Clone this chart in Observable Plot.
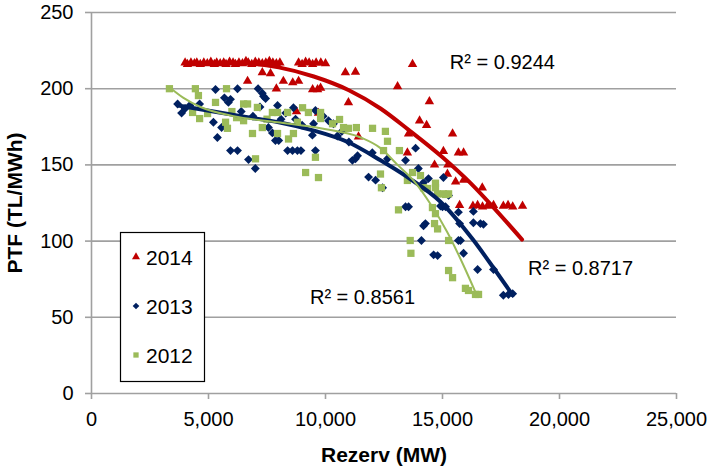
<!DOCTYPE html>
<html><head><meta charset="utf-8">
<script src="https://cdn.jsdelivr.net/npm/d3@7"></script>
<script src="https://cdn.jsdelivr.net/npm/@observablehq/plot@0.6"></script>
<style>
body{margin:0;background:#fff;font-family:"Liberation Sans",Arial,sans-serif;}
#wrap{position:relative;width:708px;height:470px;}
g[aria-label="x-axis label"] text, g[aria-label="y-axis label"] text{font-weight:bold;font-size:21px;}
g[aria-label="x-axis tick label"] text, g[aria-label="y-axis tick label"] text{font-size:20px;}
</style></head><body><div id="wrap"></div>
<script>
// ---- data (Rezerv MW, PTF TL/MWh) ----
const pts2014 = [
 [4000,217],[4100,216],[4250,217],[4400,216.5],[4500,217],[4650,216],[4800,217],[4950,216.5],[5100,217.5],[5250,216],
 [5350,217],[5500,216.5],[5650,217],[5750,216],[5900,217.5],[6050,217],[6150,216],[6300,217],[6450,216.5],[6600,218],
 [6700,217],[6850,216],[7000,217.5],[7150,217],[7300,216.5],[7450,217],[7600,218],[7750,217],[7900,216.5],[8050,217],
 [8850,217],[9000,216],[9150,217.5],[9300,217],[9450,216],[9600,217],[9800,217],[10000,216.5],
 [7300,210.6],[7650,210],[6670,205],[8200,205],[8600,204],[8850,205],[7900,200],[9450,199.5],[9660,199.5],[9790,200.5],
 [10850,210.6],[11280,211],[10980,191],[8760,185],[9700,184],[13720,216],[13080,201.5],[14440,191.6],[14020,179],[14320,176],
 [13550,170.5],[15430,170.5],[11410,168.5],[15680,158],[15900,158],[15040,159],[13500,158],[14660,150],[15230,150],[15560,139],
 [15900,140],[16700,135],[15210,144],
 [15730,123.5],[16300,123],[16500,123.5],[16710,122.5],[16920,123],[17180,123.5],[17600,123],[17800,123.5],[18000,122.5],[18420,123]
];
const pts2013 = [
 [3680,190],[3850,184],[4000,187],[4200,189],[4620,190],[5300,199.5],[6240,200],[7120,200],[5680,194],[5940,193],
 [5850,191],[5210,178],[5560,174.5],[5380,168],[5940,159.4],[6240,159.4],[6710,153.5],[7000,147.6],[7560,174.5],[7300,197],
 [7350,195],[7440,193.6],[7950,189],[8630,187.5],[8380,159.4],[8590,159.4],[8800,159.4],[8950,159.4],[9570,159.4],[9440,169.5],
 [9570,185.7],[10130,179],[10340,177],[10510,169],[7860,166],[8000,166],[7730,171],[8720,180],[9490,177],[11280,154],
 [11150,153],[11840,142],[12650,154],[13420,153],[11370,156],[12140,140],[12440,135],[13850,161],[13970,147.6],[14400,141],
 [15040,141.7],[15260,130],[13420,122.5],[13550,122.5],[14915,123],[15000,122.5],[15130,122.5],[15680,119],[16320,119.5],[14190,138.5],
 [14190,110],[14270,111.5],[15730,111.5],[16320,112],[16620,111.5],[16750,111],[14100,100.4],[15680,100.4],[15770,100.4],[14620,91],
 [14790,90.5],[15900,92],[16500,81.4],[17180,81.4],[17600,64.5],[17820,65],[18000,65.5],
 [6400,185],[6900,182],[7200,188],[8100,180],[8300,184],[9000,176],[9900,182],[10700,172],[11000,165],[12000,158]
];
const pts2012 = [
 [3330,200],[4440,200],[4570,195.5],[4320,184.4],[4620,180.4],[4960,183.7],[5300,191],[5770,200],[5810,174],[5730,178],
 [6500,190],[6670,190],[6500,179],[6880,170.6],[7010,154],[7090,187.7],[7300,174.5],[7730,184.4],[7950,184.4],[7950,170.6],
 [8380,184.4],[8420,167],[8630,170.6],[9020,187.5],[9270,184.4],[9790,184.4],[9790,180.4],[9570,155],[9150,145],[9700,141.7],
 [10600,179.8],[10770,174.5],[10980,174],[11320,174.5],[12010,174],[12560,172],[12650,165.5],[12480,159.4],[13160,159.4],[12350,144],
 [12390,135],[13120,120.5],[13720,145],[14060,143],[14190,135],[14360,134.5],[14700,135],[14790,131],[15040,131],[15260,131],
 [15130,130.6],[13500,139.8],[14570,122],[14700,118],[14700,138],[13620,100.4],[13650,92],[14660,111.5],[14790,108],[15260,100.4],
 [15260,80.7],[15430,76],[15980,69],[16110,67.6],[16410,65],[16540,65],
 [6000,185],[6200,181],[7500,180],[8800,178],[10300,177]
];
// trendlines
const trend2014 = [[4000,216.5],[6000,217],[8000,214],[9500,208],[11000,199],[12350,187],[13550,173],[15000,155],[16200,138],[17300,120],[18400,101]];
const trend2013 = [[3700,189],[5400,184.5],[6800,181],[8000,178],[9500,172.5],[10950,165],[12350,153],[13500,142],[14900,126],[16300,101],[17200,82],[18000,64.5]];
const trend2012 = [[3330,201],[3930,194],[4660,188],[6070,182],[7950,178],[9790,174],[11500,168],[12350,161],[13080,150],[13800,139],[14500,124],[15200,106],[15900,84],[16450,65]];
const r2Labels = [
 {x:17560, y:217, text:"R² = 0.9244"},
 {x:20900, y:82, text:"R² = 0.8717"},
 {x:11580, y:63, text:"R² = 0.8561"}
];
const xTicks = [0,5000,10000,15000,20000,25000];
const yTicks = [0,50,100,150,200,250];
const series = ["2014","2013","2012"];
const colors = {"2014":"#C00000","2013":"#002060","2012":"#9BBB59"};

const grid = "#a0a0a0";
const chart = Plot.plot({
  width:708, height:470, marginLeft:91, marginRight:32, marginTop:12, marginBottom:77,
  style:{fontFamily:"'Liberation Sans', Arial, sans-serif", fontSize:"20px", color:"#000", background:"#fff", overflow:"visible"},
  x:{domain:[0,25000]}, y:{domain:[0,250]},
  marks:[
    Plot.ruleY(yTicks,{stroke:grid, strokeWidth:1.6}),
    Plot.ruleX([0],{stroke:grid, strokeWidth:1.6}),
    Plot.axisY({ticks:yTicks, tickSize:6, tickPadding:12, stroke:grid, strokeWidth:1.6, fontSize:20,
      label:"PTF (TL/MWh)", labelAnchor:"center", labelArrow:"none", labelOffset:84}),
    Plot.axisX({ticks:xTicks, tickSize:6, tickPadding:12, stroke:grid, strokeWidth:1.6, fontSize:20,
      tickFormat:d3.format(","), label:"Rezerv (MW)", labelAnchor:"center", labelArrow:"none", labelOffset:68}),
    Plot.dot(pts2014,{x:d=>d[0], y:d=>d[1], symbol:"triangle", r:3.5, fill:colors["2014"], stroke:null}),
    Plot.dot(pts2013,{x:d=>d[0], y:d=>d[1], symbol:"diamond2", r:4, fill:colors["2013"], stroke:null}),
    Plot.dot(pts2012,{x:d=>d[0], y:d=>d[1], symbol:"square", r:4.1, fill:colors["2012"], stroke:null}),
    Plot.line(trend2014,{x:d=>d[0], y:d=>d[1], stroke:colors["2014"], strokeWidth:4, curve:"monotone-x"}),
    Plot.line(trend2013,{x:d=>d[0], y:d=>d[1], stroke:colors["2013"], strokeWidth:4, curve:"monotone-x"}),
    Plot.line(trend2012,{x:d=>d[0], y:d=>d[1], stroke:colors["2012"], strokeWidth:2, curve:"monotone-x"}),
    Plot.text(r2Labels,{x:"x", y:"y", text:"text", fontSize:20, fill:"#000"})
  ]
});
document.getElementById("wrap").appendChild(chart);

// legend box
const svg = d3.select(chart);
const lg = svg.append("g").attr("text-anchor","start");
lg.append("rect").attr("x",120.5).attr("y",232.5).attr("width",84).attr("height",149)
  .attr("fill","#fff").attr("stroke","#000").attr("stroke-width",1.2);
const syms = {"2014":d3.symbolTriangle,"2013":d3.symbolDiamond2,"2012":d3.symbolSquare};
series.forEach((s,i)=>{
  const cy = 257 + i*49;
  lg.append("path").attr("d", d3.symbol(syms[s], 28)()).attr("transform",`translate(136,${cy})`).attr("fill",colors[s]);
  lg.append("text").attr("x",146).attr("y",cy).attr("dy","0.36em").attr("font-size",21).attr("fill","#000").text(s);
});
</script></body></html>
